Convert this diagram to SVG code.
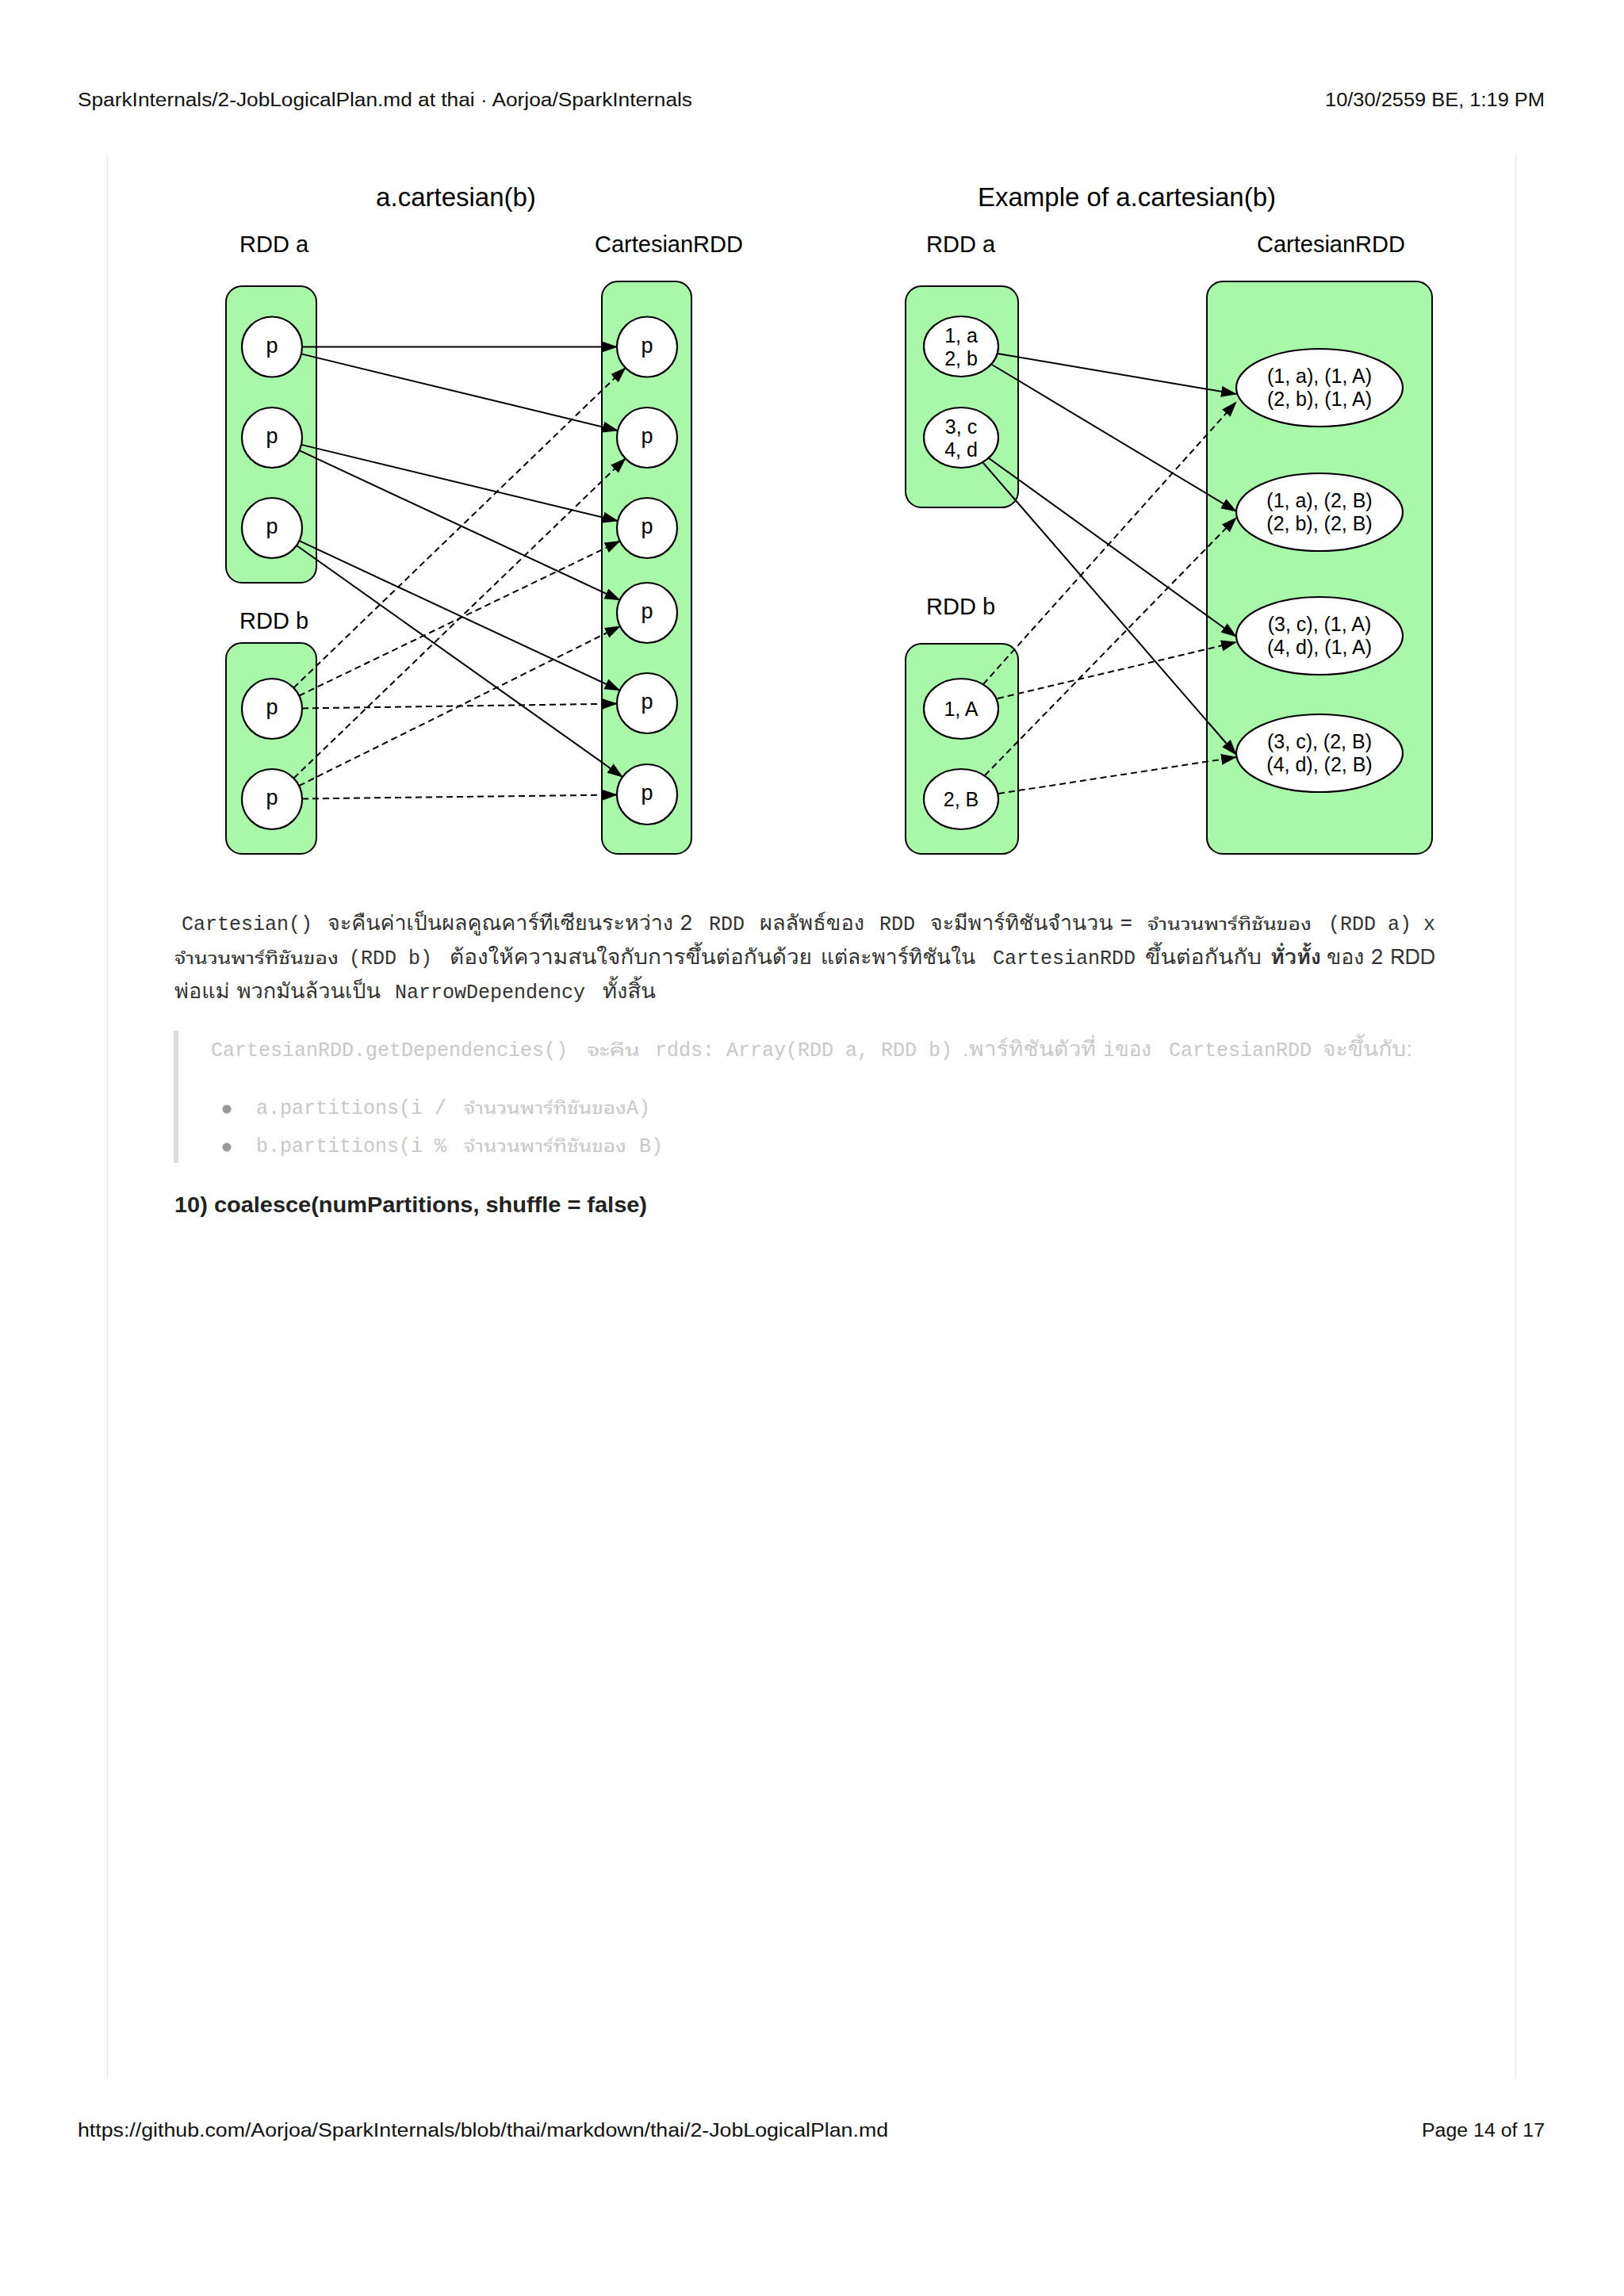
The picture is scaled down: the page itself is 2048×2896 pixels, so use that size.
<svg xmlns="http://www.w3.org/2000/svg" width="2048" height="2896" viewBox="0 0 2048 2896">
<defs>
<marker id="arr" markerUnits="userSpaceOnUse" markerWidth="22" markerHeight="16" refX="19" refY="7" orient="auto">
<path d="M0,0 L20,7 L0,14 Z" fill="#000"/>
</marker>
<style>
.page{font-family:"Liberation Sans","Noto Sans",sans-serif;font-size:23px;fill:#111}
.title{font-family:"Liberation Sans",Arial,sans-serif;font-size:33px;fill:#000}
.lbl{font-family:"Liberation Sans",Arial,sans-serif;font-size:29px;fill:#000}
.nt{font-family:"Liberation Sans",Arial,sans-serif;font-size:27px;fill:#000;text-anchor:middle}
.et{font-family:"Liberation Sans",Arial,sans-serif;font-size:25px;fill:#000;text-anchor:middle}
.box{fill:#a9f7a9;stroke:#000;stroke-width:2}
.node{fill:#fff;stroke:#000;stroke-width:2.2}
.e{stroke:#000;stroke-width:2;fill:none;marker-end:url(#arr)}
.d{stroke-dasharray:8 5}
.body{font-family:"Loma","Garuda","Noto Sans Thai Looped","Noto Sans Thai","Noto Sans","DejaVu Sans",sans-serif;font-size:26px;fill:#333}
.bold{font-weight:bold}
.code{font-family:"Liberation Mono","Tlwg Typo","Tlwg Mono","Noto Sans Thai Looped","Noto Sans Thai",monospace;font-size:25px;fill:#333}
.scode{font-family:"Tlwg Typo","Tlwg Mono","Liberation Mono","Noto Sans Thai Looped","Noto Sans Thai",monospace;font-size:21px;fill:#333}
.q{fill:#c8c8c8}
.h10{font-family:"Liberation Sans",Arial,sans-serif;font-size:27px;font-weight:bold;fill:#222}
</style>
</defs>
<rect width="2048" height="2896" fill="#fff"/>

<g id="page-chrome">
<text class="page" x="98" y="134" textLength="775" lengthAdjust="spacingAndGlyphs">SparkInternals/2-JobLogicalPlan.md at thai · Aorjoa/SparkInternals</text>
<text class="page" x="1948" y="134" text-anchor="end" textLength="277" lengthAdjust="spacingAndGlyphs">10/30/2559 BE, 1:19 PM</text>
<line x1="135.5" y1="196" x2="135.5" y2="2622" stroke="#e6e6e6" stroke-width="1.5"/>
<line x1="1911.5" y1="196" x2="1911.5" y2="2622" stroke="#e6e6e6" stroke-width="1.5"/>
<text class="page" x="98" y="2695" textLength="1022" lengthAdjust="spacingAndGlyphs">https://github.com/Aorjoa/SparkInternals/blob/thai/markdown/thai/2-JobLogicalPlan.md</text>
<text class="page" x="1948" y="2695" text-anchor="end" textLength="155" lengthAdjust="spacingAndGlyphs">Page 14 of 17</text>
</g>

<!-- Left diagram -->
<g id="left-diagram">
<text class="title" x="575" y="260" text-anchor="middle">a.cartesian(b)</text>
<text class="lbl" x="302" y="318">RDD a</text>
<text class="lbl" x="750" y="318">CartesianRDD</text>
<text class="lbl" x="302" y="793">RDD b</text>
<g id="L-rdda"><rect class="box" x="285" y="361" width="114" height="374" rx="20"/></g>
<g id="L-rddb"><rect class="box" x="285" y="811" width="114" height="266" rx="20"/></g>
<g id="L-cart"><rect class="box" x="759" y="355" width="113" height="722" rx="20"/></g>
<g id="L-a1"><circle class="node" cx="343" cy="437.5" r="38"/><text class="nt" x="343" y="445">p</text></g>
<g id="L-a2"><circle class="node" cx="343" cy="552" r="38"/><text class="nt" x="343" y="559">p</text></g>
<g id="L-a3"><circle class="node" cx="343" cy="666" r="38"/><text class="nt" x="343" y="673">p</text></g>
<g id="L-b1"><circle class="node" cx="343" cy="894" r="38"/><text class="nt" x="343" y="901">p</text></g>
<g id="L-b2"><circle class="node" cx="343" cy="1008" r="38"/><text class="nt" x="343" y="1015">p</text></g>
<g id="L-c1"><circle class="node" cx="816" cy="437.5" r="38"/><text class="nt" x="816" y="445">p</text></g>
<g id="L-c2"><circle class="node" cx="816" cy="552" r="38"/><text class="nt" x="816" y="559">p</text></g>
<g id="L-c3"><circle class="node" cx="816" cy="666" r="38"/><text class="nt" x="816" y="673">p</text></g>
<g id="L-c4"><circle class="node" cx="816" cy="773" r="38"/><text class="nt" x="816" y="780">p</text></g>
<g id="L-c5"><circle class="node" cx="816" cy="887" r="38"/><text class="nt" x="816" y="894">p</text></g>
<g id="L-c6"><circle class="node" cx="816" cy="1002" r="38"/><text class="nt" x="816" y="1009">p</text></g>
</g>

<!-- Right diagram -->
<g id="right-diagram">
<text class="title" x="1421" y="260" text-anchor="middle">Example of a.cartesian(b)</text>
<text class="lbl" x="1168" y="318">RDD a</text>
<text class="lbl" x="1585" y="318">CartesianRDD</text>
<text class="lbl" x="1168" y="775">RDD b</text>
<g id="R-rdda"><rect class="box" x="1142" y="361" width="142" height="279" rx="20"/></g>
<g id="R-rddb"><rect class="box" x="1142" y="812" width="142" height="265" rx="20"/></g>
<g id="R-cart"><rect class="box" x="1522" y="355" width="284" height="722" rx="20"/></g>
<g id="R-a1"><ellipse class="node" cx="1212" cy="437" rx="47" ry="38"/><text class="et" x="1212" y="432">1, a</text><text class="et" x="1212" y="461">2, b</text></g>
<g id="R-a2"><ellipse class="node" cx="1212" cy="552" rx="47" ry="38"/><text class="et" x="1212" y="547">3, c</text><text class="et" x="1212" y="576">4, d</text></g>
<g id="R-b1"><ellipse class="node" cx="1212" cy="894" rx="47" ry="38"/><text class="et" x="1212" y="903">1, A</text></g>
<g id="R-b2"><ellipse class="node" cx="1212" cy="1008" rx="47" ry="38"/><text class="et" x="1212" y="1017">2, B</text></g>
<g id="R-e1"><ellipse class="node" cx="1664" cy="489" rx="105" ry="49"/><text class="et" x="1664" y="483">(1, a), (1, A)</text><text class="et" x="1664" y="512">(2, b), (1, A)</text></g>
<g id="R-e2"><ellipse class="node" cx="1664" cy="646" rx="105" ry="49"/><text class="et" x="1664" y="640">(1, a), (2, B)</text><text class="et" x="1664" y="669">(2, b), (2, B)</text></g>
<g id="R-e3"><ellipse class="node" cx="1664" cy="802" rx="105" ry="49"/><text class="et" x="1664" y="796">(3, c), (1, A)</text><text class="et" x="1664" y="825">(4, d), (1, A)</text></g>
<g id="R-e4"><ellipse class="node" cx="1664" cy="950" rx="105" ry="49"/><text class="et" x="1664" y="944">(3, c), (2, B)</text><text class="et" x="1664" y="973">(4, d), (2, B)</text></g>
</g>

<g id="connectors">
<line class="e" x1="381" y1="437.5" x2="778" y2="437.5"/>
<line class="e" x1="379.9" y1="446.4" x2="779.1" y2="543.1"/>
<line class="e" x1="379.9" y1="560.9" x2="779.1" y2="657.1"/>
<line class="e" x1="377.4" y1="568.1" x2="781.6" y2="756.9"/>
<line class="e" x1="377.4" y1="682.1" x2="781.6" y2="870.9"/>
<line class="e" x1="374" y1="688" x2="785" y2="980"/>
<line class="e d" x1="370.3" y1="867.6" x2="788.7" y2="463.9"/>
<line class="e d" x1="377.2" y1="877.5" x2="781.8" y2="682.5"/>
<line class="e d" x1="381" y1="893.4" x2="778" y2="887.6"/>
<line class="e d" x1="370.4" y1="981.6" x2="788.6" y2="578.4"/>
<line class="e d" x1="377" y1="991.1" x2="782" y2="789.9"/>
<line class="e d" x1="381" y1="1007.5" x2="778" y2="1002.5"/>

<line class="e" x1="1258" y1="446" x2="1559" y2="497"/>
<line class="e" x1="1251" y1="460" x2="1559" y2="645"/>
<line class="e" x1="1247" y1="578" x2="1559" y2="803"/>
<line class="e" x1="1240" y1="584" x2="1559" y2="952"/>
<line class="e d" x1="1240" y1="863" x2="1559" y2="507"/>
<line class="e d" x1="1258" y1="881" x2="1559" y2="810"/>
<line class="e d" x1="1242" y1="978" x2="1559" y2="653"/>
<line class="e d" x1="1259" y1="1001" x2="1559" y2="955"/>
</g>

<g id="text-body">
<text class="code" x="229" y="1173">Cartesian()</text>
<text class="body" x="413" y="1173" textLength="460" lengthAdjust="spacingAndGlyphs">จะคืนค่าเป็นผลคูณคาร์ทีเซียนระหว่าง 2</text>
<text class="code" x="894" y="1173">RDD</text>
<text class="body" x="958" y="1173" textLength="132" lengthAdjust="spacingAndGlyphs">ผลลัพธ์ของ</text>
<text class="code" x="1109" y="1173">RDD</text>
<text class="body" x="1173" y="1173" textLength="255" lengthAdjust="spacingAndGlyphs">จะมีพาร์ทิชันจำนวน =</text>
<text class="scode" x="1447" y="1173" textLength="207" lengthAdjust="spacingAndGlyphs">จำนวนพาร์ทิชันของ</text>
<text class="code" x="1675" y="1173">(RDD a) x</text>

<text class="scode" x="220" y="1216" textLength="207" lengthAdjust="spacingAndGlyphs">จำนวนพาร์ทิชันของ</text>
<text class="code" x="440" y="1216">(RDD b)</text>
<text class="body" x="567" y="1216" textLength="457" lengthAdjust="spacingAndGlyphs">ต้องให้ความสนใจกับการขึ้นต่อกันด้วย</text>
<text class="body" x="1035" y="1216" textLength="195" lengthAdjust="spacingAndGlyphs">แต่ละพาร์ทิชันใน</text>
<text class="code" x="1252" y="1216">CartesianRDD</text>
<text class="body" x="1444" y="1216" textLength="147" lengthAdjust="spacingAndGlyphs">ขึ้นต่อกันกับ</text>
<text class="body bold" x="1602" y="1216" textLength="64" lengthAdjust="spacingAndGlyphs">ทั่วทั้ง</text>
<text class="body" x="1673" y="1216" textLength="137" lengthAdjust="spacingAndGlyphs">ของ 2 RDD</text>

<text class="body" x="220" y="1259" textLength="260" lengthAdjust="spacingAndGlyphs">พ่อแม่ พวกมันล้วนเป็น</text>
<text class="code" x="498" y="1259">NarrowDependency</text>
<text class="body" x="760" y="1259" textLength="67" lengthAdjust="spacingAndGlyphs">ทั้งสิ้น</text>
</g>

<g id="blockquote">
<rect x="219" y="1300" width="6" height="167" fill="#dddddd"/>
<text class="code q" x="266" y="1332">CartesianRDD.getDependencies()</text>
<text class="scode q" x="740" y="1332" textLength="67" lengthAdjust="spacingAndGlyphs">จะคืน</text>
<text class="code q" x="826" y="1332">rdds: Array(RDD a, RDD b)</text>
<text class="body q" x="1214" y="1332">.</text>
<text class="body q" x="1222" y="1332" textLength="160" lengthAdjust="spacingAndGlyphs">พาร์ทิชันตัวที่</text>
<text class="code q" x="1391" y="1332">i</text>
<text class="body q" x="1406" y="1332" textLength="46" lengthAdjust="spacingAndGlyphs">ของ</text>
<text class="code q" x="1474" y="1332">CartesianRDD</text>
<text class="body q" x="1668" y="1332" textLength="113" lengthAdjust="spacingAndGlyphs">จะขึ้นกับ:</text>

<circle cx="286" cy="1399" r="5.5" fill="#999"/>
<text class="code q" x="323" y="1405">a.partitions(i / </text>
<text class="scode q" x="585" y="1405" textLength="205" lengthAdjust="spacingAndGlyphs">จำนวนพาร์ทิชันของ</text>
<text class="code q" x="790" y="1405">A)</text>
<circle cx="286" cy="1447" r="5.5" fill="#999"/>
<text class="code q" x="323" y="1453">b.partitions(i % </text>
<text class="scode q" x="585" y="1453" textLength="205" lengthAdjust="spacingAndGlyphs">จำนวนพาร์ทิชันของ</text>
<text class="code q" x="806" y="1453">B)</text>
</g>

<text class="h10" x="220" y="1529" textLength="596" lengthAdjust="spacingAndGlyphs">10) coalesce(numPartitions, shuffle = false)</text>
</svg>
